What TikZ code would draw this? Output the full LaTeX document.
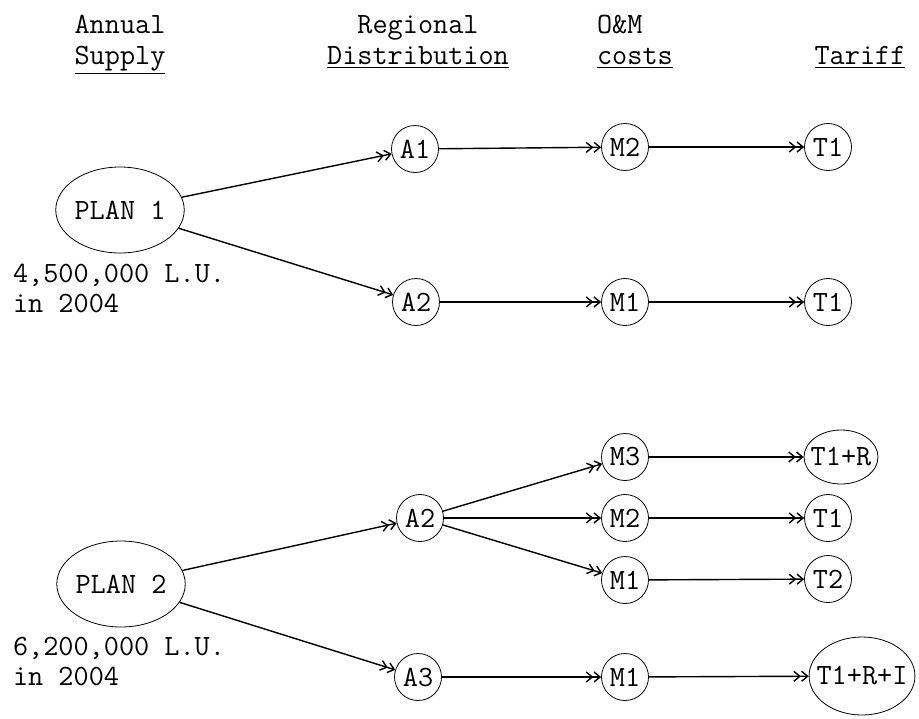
\documentclass[tikz,border=0pt]{standalone}
\usetikzlibrary{shapes.geometric,arrows.meta}

\begin{document}
\begin{tikzpicture}[x=0.5pt, y=-0.5pt,
  every node/.style={font=\ttfamily\fontsize{14.7}{15}\selectfont},
  vertex/.style={draw,circle,inner sep=0pt,minimum size=23.5pt},
  plan/.style={draw,ellipse,inner sep=0pt,minimum width=57pt,minimum height=43pt},
  wide/.style={draw,ellipse,inner sep=-4pt},
  head/.style={anchor=base},
  arr/.style={draw,line width=0.7pt,-{Straight Barb[length=3pt,width=5pt]Straight Barb[length=3pt,width=5pt]}}]
  \useasboundingbox (0,0) rectangle (919,718);

  \node[head] (hsup) at (120,33) {Annual};
  \node[head] (hsup2) at (120,64) {\underline{Supply}};
  \node[head] (hdis) at (418,33) {Regional};
  \node[head] (hdis2) at (418,64) {\underline{Distribution}};
  \node[head,anchor=base west] (hom) at (590,33) {O\&M};
  \node[head,anchor=base west] (hom2) at (590,64) {\underline{costs}};
  \node[head] (htar) at (860,64) {\underline{Tariff}};

  % plan 1
  \node[plan] (p1) at (120,210) {PLAN 1};
  \node[align=left,anchor=west] (q1) at (6,288) {4,500,000 L.U.\\in 2004};
  \node[vertex] (a1) at (415,149) {A1};
  \node[vertex] (a2) at (416,302) {A2};
  \node[vertex] (m2) at (625,147) {M2};
  \node[vertex] (m1) at (625,302) {M1};
  \node[vertex] (t1) at (828,147) {T1};
  \node[vertex] (t1b) at (828,302) {T1};

  \draw[arr] (p1) -- (a1);
  \draw[arr] (p1) -- (a2);
  \draw[arr] (a1) -- (m2);
  \draw[arr] (a2) -- (m1);
  \draw[arr] (m2) -- (t1);
  \draw[arr] (m1) -- (t1b);

  % plan 2
  \node[plan] (p2) at (121,584) {PLAN 2};
  \node[align=left,anchor=west] (q2) at (6,662) {6,200,000 L.U.\\in 2004};
  \node[vertex] (b2) at (420,518) {A2};
  \node[vertex] (b3) at (418,677) {A3};
  \node[vertex] (n3) at (625,457) {M3};
  \node[vertex] (n2) at (625,518) {M2};
  \node[vertex] (n1) at (625,580) {M1};
  \node[vertex] (n1b) at (625,677) {M1};
  \node[wide,minimum width=37pt,minimum height=27pt] (s1r) at (841,457) {T1+R};
  \node[vertex] (s1) at (828,518) {T1};
  \node[vertex] (s2) at (828,579) {T2};
  \node[wide,minimum width=52pt,minimum height=39pt] (s1ri) at (862,676) {T1+R+I};

  \draw[arr] (p2) -- (b2);
  \draw[arr] (p2) -- (b3);
  \draw[arr] (b2) -- (n3);
  \draw[arr] (b2) -- (n2);
  \draw[arr] (b2) -- (n1);
  \draw[arr] (b3) -- (n1b);
  \draw[arr] (n3) -- (s1r);
  \draw[arr] (n2) -- (s1);
  \draw[arr] (n1) -- (s2);
  \draw[arr] (n1b) -- (s1ri);
\end{tikzpicture}
\end{document}
